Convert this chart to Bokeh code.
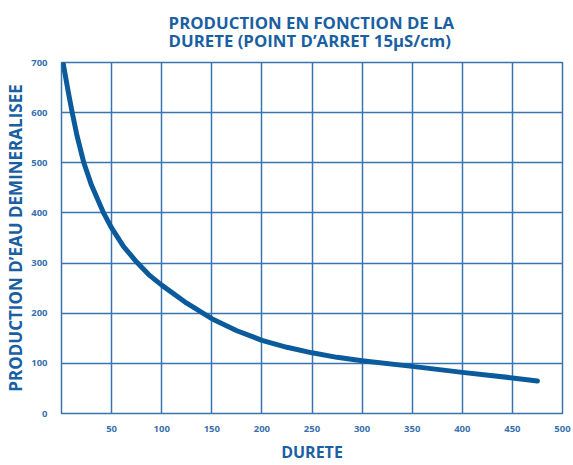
from bokeh.plotting import figure
from bokeh.models import FixedTicker, Title
from bokeh.embed import file_html
from bokeh.resources import INLINE

# Data
durete = [1.5, 6.7, 10.7, 15.6, 22.3, 30, 42, 50, 62, 75, 87, 100, 125, 150, 175, 200, 225, 250, 275, 300, 350, 400, 450, 475]
production = [700, 642, 600, 553, 500, 455, 400, 370, 333, 302, 277, 256, 220, 189, 165, 146, 132, 121, 112, 105, 94, 82, 71, 65]

x_ticks = [50, 100, 150, 200, 250, 300, 350, 400, 450, 500]
y_ticks = [0, 100, 200, 300, 400, 500, 600, 700]

title_lines = ["PRODUCTION EN FONCTION DE LA", "DURETE (POINT D\u2019ARRET  15\u00b5S/cm)"]
x_label = "DURETE"
y_label = "PRODUCTION D\u2019EAU DEMINERALISEE"

FONT = "Open Sans"
TXT = "#1a5fa2"
TICK = "#3a70ad"
GRID = "#3a74b0"
CURVE = "#0b5b9c"

p = figure(width=573, height=465, x_range=(0, 500), y_range=(0, 700),
           output_backend="svg", toolbar_location=None,
           min_border_left=61, min_border_right=11, min_border_top=62, min_border_bottom=52)

p.title = Title(text="\n".join(title_lines), align="center", vertical_align="top",
                text_font=FONT, text_font_size="16.8px", text_font_style="bold",
                text_color=TXT, text_line_height=0.81, standoff=16)

p.line(durete, production, line_width=5, line_color=CURVE, line_cap="round", line_join="round")

p.xaxis.ticker = FixedTicker(ticks=x_ticks)
p.yaxis.ticker = FixedTicker(ticks=y_ticks)
for ax in (p.xaxis[0], p.yaxis[0]):
    ax.axis_line_color = None
    ax.major_tick_line_color = None
    ax.minor_tick_line_color = None
    ax.major_label_text_font = FONT
    ax.major_label_text_font_size = "9.5px"
    ax.major_label_text_font_style = "bold"
    ax.major_label_text_color = TICK
    ax.axis_label_text_font = FONT
    ax.axis_label_text_font_style = "bold"
    ax.axis_label_text_color = TXT

p.xaxis.axis_label = x_label
p.yaxis.axis_label = y_label
p.xaxis.axis_label_text_font_size = "16px"
p.yaxis.axis_label_text_font_size = "17px"
p.xaxis.major_label_standoff = 6
p.yaxis.major_label_standoff = 8
p.xaxis.axis_label_standoff = 6
p.yaxis.axis_label_standoff = 1

p.grid.grid_line_color = GRID
p.grid.grid_line_width = 1.5
p.outline_line_color = GRID
p.outline_line_width = 1.5
p.outline_line_alpha = 1.0

p.background_fill_color = "white"
p.border_fill_color = "white"

open("out.html", "w").write(file_html(p, INLINE))
